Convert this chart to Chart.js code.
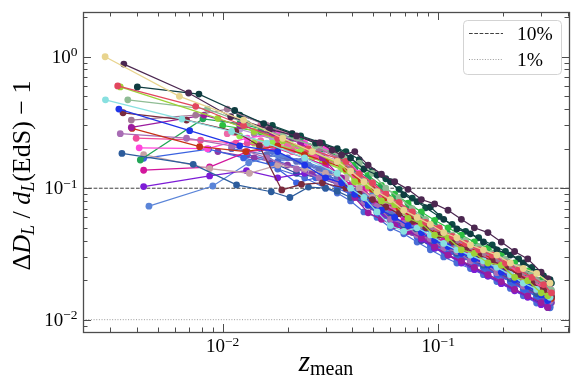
<!DOCTYPE html>
<html>
<head>
<meta charset="utf-8">
<script src="https://cdn.jsdelivr.net/npm/chart.js@4.4.1/dist/chart.umd.min.js"></script>
<style>
  html, body { margin: 0; padding: 0; background: #fff; }
  canvas { display: block; }
</style>
</head>
<body>
<canvas id="myChart" width="581" height="388"></canvas>
<script>

// Axis limits
const xMin = 0.00225
const xMax = 0.404
const yMin = 0.00806
const yMax = 2.19

// Reference levels (horizontal lines) and their legend text
const refLevels = [0.1, 0.01]
const refLabels = ['10%', '1%']

// Shared redshift grids used by the dense part of each curve
const zGridA = [0.034, 0.0392, 0.0452, 0.052, 0.060, 0.0692, 0.0798, 0.0919, 0.106, 0.122, 0.141, 0.162, 0.187, 0.216, 0.248, 0.286, 0.330]
const zGridB = [0.0356, 0.041, 0.0473, 0.0545, 0.0628, 0.0724, 0.0835, 0.0962, 0.111, 0.128, 0.147, 0.170, 0.196, 0.226, 0.260, 0.300, 0.322]
const zGridC = [0.0373, 0.043, 0.0495, 0.0571, 0.0658, 0.0758, 0.0874, 0.101, 0.116, 0.134, 0.154, 0.178, 0.205, 0.236, 0.272, 0.308, 0.335]

const seriesColors = [
    '#e8d48e', '#4b2750', '#0f3c40', '#e2475e', '#9cd236', '#88e0e0', '#8fbc94', '#1f35e8',
    '#7a2a3c', '#a27796', '#9b1c9e', '#c63216', '#a86cb4', '#f04c9c', '#ff46dc', '#2c5c9c',
    '#22a556', '#c6a2a6', '#d2169c', '#7c1cd6', '#5a84d8', '#3a62e0', '#90e84c', '#8a3aa6',
    '#6070c0', '#2cc040', '#ec6aa8', '#b49ad6', '#4666d0', '#a4dc3c', '#e8609a', '#2a4aa0',
    '#5a78d2', '#98e03a', '#e0509c', '#4a6ed6', '#a584a4', '#0e4a44', '#4f6fd8', '#6c8ee0'
]

// Low-z points of each curve: [z_mean, dD/d - 1]
const heads = [
    [[0.00285, 1.0], [0.0063, 0.50], [0.0125, 0.33], [0.019, 0.24], [0.026, 0.19]],
    [[0.00348, 0.88], [0.00695, 0.53], [0.0109, 0.35], [0.0165, 0.28], [0.022, 0.25], [0.0282, 0.222], [0.0322, 0.195]],
    [[0.00402, 0.59], [0.00776, 0.52], [0.01137, 0.39], [0.0155, 0.31], [0.021, 0.26], [0.027, 0.22]],
    [[0.00326, 0.60], [0.0075, 0.42], [0.0125, 0.30], [0.018, 0.24], [0.025, 0.20]],
    [[0.00335, 0.59], [0.0095, 0.34], [0.014, 0.27], [0.019, 0.23], [0.026, 0.19]],
    [[0.00286, 0.47], [0.00647, 0.336], [0.011, 0.27], [0.016, 0.22], [0.024, 0.17]],
    [[0.00363, 0.47], [0.0085, 0.40], [0.013, 0.31], [0.019, 0.25], [0.027, 0.21]],
    [[0.0033, 0.40], [0.00703, 0.274], [0.012, 0.21], [0.018, 0.19], [0.024, 0.15], [0.03, 0.12]],
    [[0.00345, 0.375], [0.0068, 0.33], [0.0115, 0.27], [0.0148, 0.21], [0.0188, 0.097], [0.0232, 0.107], [0.029, 0.11]],
    [[0.00377, 0.33], [0.0075, 0.36], [0.0105, 0.40], [0.016, 0.30], [0.022, 0.24], [0.028, 0.20]],
    [[0.00377, 0.29], [0.0082, 0.36], [0.012, 0.30], [0.017, 0.26], [0.023, 0.22], [0.029, 0.17]],
    [[0.0038, 0.285], [0.00782, 0.207], [0.0128, 0.19], [0.018, 0.21], [0.024, 0.18], [0.03, 0.16]],
    [[0.00335, 0.26], [0.0068, 0.24], [0.011, 0.21], [0.016, 0.17], [0.022, 0.14], [0.028, 0.12]],
    [[0.00397, 0.24], [0.0079, 0.232], [0.0115, 0.22], [0.016, 0.21], [0.021, 0.19], [0.027, 0.175]],
    [[0.0041, 0.203], [0.0085, 0.20], [0.013, 0.24], [0.018, 0.26], [0.024, 0.22], [0.03, 0.20]],
    [[0.00341, 0.184], [0.0073, 0.152], [0.0116, 0.106], [0.0168, 0.094], [0.0205, 0.085], [0.025, 0.102], [0.03, 0.10]],
    [[0.00415, 0.164], [0.0081, 0.337], [0.012, 0.31], [0.017, 0.27], [0.023, 0.23], [0.029, 0.20]],
    [[0.0043, 0.18], [0.0087, 0.141], [0.0133, 0.13], [0.018, 0.15], [0.024, 0.14], [0.03, 0.13]],
    [[0.0043, 0.137], [0.0087, 0.145], [0.013, 0.19], [0.018, 0.20], [0.024, 0.17], [0.03, 0.15]],
    [[0.0043, 0.103], [0.0087, 0.124], [0.0129, 0.136], [0.018, 0.12], [0.024, 0.13], [0.03, 0.12]],
    [[0.00455, 0.073], [0.009, 0.104], [0.0132, 0.156], [0.018, 0.18], [0.024, 0.16], [0.03, 0.14]],
    [[0.0043, 0.169], [0.0086, 0.198], [0.0125, 0.17], [0.017, 0.15], [0.022, 0.11], [0.027, 0.12]],
    [[0.012, 0.25], [0.017, 0.22], [0.023, 0.19], [0.029, 0.16]],
    [[0.0095, 0.19], [0.014, 0.17], [0.02, 0.15], [0.026, 0.13]],
    [[0.011, 0.20], [0.016, 0.18], [0.022, 0.16], [0.028, 0.14]],
    [[0.01, 0.30], [0.015, 0.27], [0.021, 0.24], [0.027, 0.21]],
    [[0.0105, 0.26], [0.015, 0.23], [0.02, 0.21], [0.026, 0.19]],
    [[0.012, 0.28], [0.017, 0.24], [0.023, 0.21], [0.029, 0.18]],
    [[0.013, 0.18], [0.018, 0.16], [0.024, 0.14], [0.03, 0.125]],
    [[0.014, 0.22], [0.02, 0.20], [0.026, 0.17]],
    [[0.015, 0.30], [0.021, 0.26], [0.027, 0.22]],
    [[0.0165, 0.16], [0.022, 0.13], [0.028, 0.12]],
    [[0.015, 0.20], [0.02, 0.17], [0.025, 0.15], [0.031, 0.13]],
    [[0.016, 0.26], [0.021, 0.20], [0.026, 0.18], [0.031, 0.16]],
    [[0.013, 0.22], [0.018, 0.23], [0.024, 0.19], [0.03, 0.17]],
    [[0.018, 0.14], [0.024, 0.12], [0.03, 0.10]],
    [[0.014, 0.26], [0.02, 0.22], [0.027, 0.18]],
    [[0.012, 0.36], [0.017, 0.30], [0.023, 0.25], [0.029, 0.22]],
    [[0.017, 0.19], [0.023, 0.16], [0.029, 0.14]],
    [[0.019, 0.17], [0.025, 0.15], [0.031, 0.12]]
]

// Which grid each curve's dense part sits on
const tailGrid = ['A', 'B', 'A', 'C', 'B', 'A', 'C', 'B', 'C', 'A', 'B', 'C', 'A', 'B', 'C', 'A',
                  'B', 'C', 'A', 'B', 'C', 'A', 'B', 'C', 'A', 'B', 'C', 'A', 'B', 'C', 'A', 'B',
                  'A', 'B', 'C', 'A', 'B', 'C', 'A', 'B']

// Dense part values, one per grid point
const tailY = [
    [0.16, 0.135, 0.112, 0.094, 0.082, 0.068, 0.060, 0.053, 0.046, 0.042, 0.037, 0.034, 0.031, 0.027, 0.0245, 0.0225, 0.019],
    [0.179, 0.19, 0.150, 0.128, 0.112, 0.098, 0.082, 0.076, 0.068, 0.058, 0.050, 0.046, 0.039, 0.033, 0.029, 0.023, 0.0205],
    [0.20, 0.17, 0.14, 0.126, 0.112, 0.089, 0.079, 0.072, 0.058, 0.049, 0.045, 0.039, 0.034, 0.031, 0.027, 0.023, 0.0202],
    [0.16, 0.128, 0.110, 0.090, 0.078, 0.066, 0.055, 0.050, 0.043, 0.038, 0.034, 0.031, 0.027, 0.024, 0.021, 0.0185, 0.016],
    [0.15, 0.112, 0.104, 0.080, 0.075, 0.059, 0.054, 0.044, 0.042, 0.034, 0.032, 0.027, 0.026, 0.021, 0.0198, 0.016, 0.0152],
    [0.13, 0.10, 0.085, 0.066, 0.052, 0.047, 0.050, 0.044, 0.038, 0.034, 0.031, 0.028, 0.025, 0.022, 0.019, 0.017, 0.0148],
    [0.17, 0.155, 0.130, 0.100, 0.085, 0.070, 0.058, 0.050, 0.044, 0.040, 0.036, 0.032, 0.029, 0.025, 0.022, 0.019, 0.0168],
    [0.11, 0.09, 0.075, 0.068, 0.060, 0.052, 0.046, 0.040, 0.036, 0.032, 0.029, 0.026, 0.023, 0.020, 0.018, 0.0155, 0.014],
    [0.10, 0.09, 0.082, 0.072, 0.064, 0.056, 0.050, 0.044, 0.039, 0.035, 0.031, 0.028, 0.025, 0.022, 0.019, 0.017, 0.015],
    [0.17, 0.14, 0.115, 0.095, 0.080, 0.069, 0.058, 0.050, 0.045, 0.040, 0.036, 0.032, 0.029, 0.026, 0.023, 0.020, 0.0172],
    [0.12, 0.085, 0.065, 0.058, 0.052, 0.047, 0.042, 0.036, 0.031, 0.028, 0.025, 0.022, 0.0195, 0.017, 0.0152, 0.0135, 0.0124],
    [0.14, 0.115, 0.098, 0.085, 0.070, 0.060, 0.052, 0.045, 0.040, 0.036, 0.033, 0.029, 0.026, 0.022, 0.0195, 0.016, 0.0145],
    [0.11, 0.098, 0.078, 0.073, 0.058, 0.054, 0.044, 0.041, 0.035, 0.033, 0.028, 0.027, 0.0228, 0.0215, 0.018, 0.0168, 0.0138],
    [0.15, 0.125, 0.100, 0.086, 0.073, 0.064, 0.055, 0.047, 0.042, 0.037, 0.033, 0.030, 0.027, 0.024, 0.0205, 0.018, 0.016],
    [0.17, 0.13, 0.110, 0.090, 0.075, 0.064, 0.056, 0.049, 0.042, 0.038, 0.034, 0.031, 0.028, 0.025, 0.022, 0.019, 0.0165],
    [0.095, 0.085, 0.078, 0.068, 0.060, 0.052, 0.046, 0.040, 0.036, 0.032, 0.029, 0.026, 0.023, 0.0205, 0.018, 0.0158, 0.014],
    [0.17, 0.14, 0.120, 0.100, 0.082, 0.070, 0.060, 0.052, 0.045, 0.040, 0.036, 0.032, 0.029, 0.025, 0.022, 0.019, 0.0168],
    [0.12, 0.10, 0.085, 0.075, 0.066, 0.058, 0.050, 0.045, 0.040, 0.036, 0.032, 0.029, 0.026, 0.0225, 0.020, 0.0175, 0.0155],
    [0.13, 0.106, 0.098, 0.077, 0.071, 0.057, 0.052, 0.042, 0.040, 0.034, 0.032, 0.027, 0.026, 0.0218, 0.0202, 0.0165, 0.0152],
    [0.11, 0.09, 0.075, 0.064, 0.055, 0.048, 0.041, 0.035, 0.031, 0.027, 0.024, 0.0215, 0.0188, 0.0166, 0.0148, 0.013, 0.0125],
    [0.12, 0.096, 0.088, 0.069, 0.064, 0.052, 0.049, 0.039, 0.038, 0.032, 0.031, 0.026, 0.0245, 0.0205, 0.0185, 0.0155, 0.0145],
    [0.10, 0.09, 0.077, 0.065, 0.056, 0.049, 0.043, 0.038, 0.034, 0.031, 0.028, 0.025, 0.022, 0.0195, 0.017, 0.015, 0.0135],
    [0.14, 0.116, 0.101, 0.077, 0.070, 0.056, 0.052, 0.042, 0.039, 0.033, 0.032, 0.026, 0.0248, 0.0205, 0.019, 0.0158, 0.0148],
    [0.10, 0.084, 0.072, 0.062, 0.053, 0.046, 0.041, 0.037, 0.033, 0.030, 0.027, 0.024, 0.0215, 0.019, 0.0168, 0.015, 0.0135],
    [0.125, 0.101, 0.093, 0.072, 0.066, 0.053, 0.049, 0.039, 0.037, 0.031, 0.030, 0.025, 0.0238, 0.0198, 0.0185, 0.015, 0.0142],
    [0.18, 0.15, 0.125, 0.105, 0.090, 0.077, 0.066, 0.057, 0.050, 0.044, 0.039, 0.035, 0.031, 0.027, 0.0235, 0.020, 0.018],
    [0.15, 0.12, 0.108, 0.084, 0.078, 0.061, 0.057, 0.046, 0.044, 0.036, 0.035, 0.029, 0.028, 0.023, 0.0218, 0.0175, 0.0162],
    [0.16, 0.13, 0.110, 0.093, 0.079, 0.067, 0.058, 0.050, 0.044, 0.039, 0.035, 0.032, 0.029, 0.025, 0.022, 0.019, 0.0168],
    [0.115, 0.092, 0.083, 0.066, 0.061, 0.049, 0.046, 0.038, 0.036, 0.030, 0.029, 0.0238, 0.0222, 0.0185, 0.017, 0.0142, 0.0133],
    [0.135, 0.112, 0.095, 0.080, 0.068, 0.058, 0.050, 0.044, 0.039, 0.035, 0.031, 0.028, 0.025, 0.022, 0.019, 0.0168, 0.015],
    [0.17, 0.14, 0.115, 0.097, 0.081, 0.069, 0.059, 0.051, 0.045, 0.040, 0.036, 0.032, 0.029, 0.0255, 0.022, 0.0192, 0.0168],
    [0.105, 0.088, 0.074, 0.063, 0.055, 0.047, 0.040, 0.035, 0.031, 0.0275, 0.0245, 0.0215, 0.019, 0.0168, 0.015, 0.0133, 0.0124],
    [0.12, 0.098, 0.088, 0.070, 0.064, 0.052, 0.047, 0.039, 0.036, 0.031, 0.029, 0.025, 0.023, 0.0195, 0.0178, 0.0148, 0.0135],
    [0.145, 0.118, 0.105, 0.082, 0.076, 0.060, 0.055, 0.044, 0.042, 0.034, 0.033, 0.027, 0.026, 0.021, 0.020, 0.016, 0.0152],
    [0.14, 0.13, 0.097, 0.092, 0.071, 0.066, 0.051, 0.049, 0.039, 0.038, 0.031, 0.031, 0.025, 0.024, 0.0195, 0.0185, 0.0148],
    [0.092, 0.080, 0.066, 0.060, 0.050, 0.045, 0.039, 0.034, 0.030, 0.027, 0.0245, 0.022, 0.0195, 0.0173, 0.0152, 0.0134, 0.0123],
    [0.16, 0.13, 0.112, 0.090, 0.080, 0.066, 0.058, 0.049, 0.044, 0.038, 0.035, 0.031, 0.028, 0.0245, 0.0215, 0.0188, 0.0162],
    [0.19, 0.165, 0.135, 0.118, 0.098, 0.084, 0.071, 0.061, 0.053, 0.047, 0.042, 0.037, 0.033, 0.029, 0.025, 0.0215, 0.019],
    [0.11, 0.094, 0.080, 0.066, 0.058, 0.049, 0.043, 0.036, 0.033, 0.028, 0.026, 0.0228, 0.0205, 0.0178, 0.0158, 0.014, 0.0126],
    [0.105, 0.090, 0.077, 0.069, 0.057, 0.052, 0.043, 0.040, 0.033, 0.031, 0.026, 0.025, 0.021, 0.0195, 0.0163, 0.0152, 0.0127]
]

// Tick labels (exponents of the major decades)
const xTickExp = [-2, -1]
const yTickExp = [0, -1, -2]

const SERIF = '"Liberation Serif", "Times New Roman", serif'


// Build datasets
const grids = { A: zGridA, B: zGridB, C: zGridC }
let datasets = []
heads.forEach((head, i) => {
    const zs = grids[tailGrid[i]]
    let pts = head.map(p => ({ x: p[0], y: p[1] }))
    tailY[i].forEach((v, j) => pts.push({ x: zs[j], y: v }))
    datasets.push({
        data: pts,
        showLine: true,
        borderColor: seriesColors[i],
        backgroundColor: seriesColors[i],
        borderWidth: 1.25,
        pointRadius: 3.4,
        pointHoverRadius: 3.4,
        pointBorderWidth: 0
    })
})

// reference lines go last so they are painted underneath
const refStyles = [
    { color: '#404040', dash: [3.7, 1.6] },
    { color: '#9a9a9a', dash: [1, 1.65] }
]
refLevels.forEach((lvl, i) => {
    datasets.push({
        label: refLabels[i],
        data: [{ x: xMin, y: lvl }, { x: xMax, y: lvl }],
        showLine: true,
        borderColor: refStyles[i].color,
        borderDash: refStyles[i].dash,
        borderWidth: 1,
        pointRadius: 0
    })
})


// helpers for drawing text runs with sub/superscripts
function runWidth(ctx, runs) {
    let w = 0
    runs.forEach(r => { ctx.font = r.font; w += ctx.measureText(r.t).width })
    return w
}
function drawRuns(ctx, runs, x0, base) {
    let x = x0
    runs.forEach(r => {
        ctx.font = r.font
        ctx.fillText(r.t, x, base + r.dy)
        x += ctx.measureText(r.t).width
    })
}
function powRuns(exp) {
    const e = exp < 0 ? '\u2212' + (-exp) : String(exp)
    return [
        { t: '10', font: '19px ' + SERIF, dy: 0 },
        { t: e, font: '13.5px ' + SERIF, dy: -6.5 }
    ]
}

function logTicks(lo, hi) {
    let out = []
    for (let e = Math.floor(Math.log10(lo)); e <= Math.ceil(Math.log10(hi)); e++) {
        for (let k = 1; k <= 9; k++) {
            const v = k * Math.pow(10, e)
            if (v >= lo && v <= hi) out.push({ v: v, major: k === 1 })
        }
    }
    return out
}


// Frame, inward ticks on all sides, tick labels and axis titles
const axesPlugin = {
    id: 'axesPlugin',
    afterDatasetsDraw(chart) {
        const { ctx, chartArea: a, scales: { x, y } } = chart
        ctx.save()
        ctx.strokeStyle = '#4d4d4d'
        ctx.lineWidth = 1

        logTicks(xMin, xMax).forEach(t => {
            const px = Math.round(x.getPixelForValue(t.v)) + 0.5
            const len = t.major ? 8 : 4.5
            ctx.beginPath()
            ctx.moveTo(px, a.bottom); ctx.lineTo(px, a.bottom - len)
            ctx.moveTo(px, a.top); ctx.lineTo(px, a.top + len)
            ctx.stroke()
        })
        logTicks(yMin, yMax).forEach(t => {
            const py = Math.round(y.getPixelForValue(t.v)) + 0.5
            const len = t.major ? 8 : 4.5
            ctx.beginPath()
            ctx.moveTo(a.left, py); ctx.lineTo(a.left + len, py)
            ctx.moveTo(a.right, py); ctx.lineTo(a.right - len, py)
            ctx.stroke()
        })

        ctx.lineWidth = 1.3
        ctx.strokeRect(Math.round(a.left) + 0.5, Math.round(a.top) + 0.5,
                       Math.round(a.right - a.left), Math.round(a.bottom - a.top))

        // tick labels
        ctx.fillStyle = '#000'
        ctx.textAlign = 'left'
        ctx.textBaseline = 'alphabetic'
        xTickExp.forEach(e => {
            const runs = powRuns(e)
            const px = x.getPixelForValue(Math.pow(10, e))
            drawRuns(ctx, runs, px - runWidth(ctx, runs) / 2, a.bottom + 20)
        })
        yTickExp.forEach(e => {
            const runs = powRuns(e)
            const py = y.getPixelForValue(Math.pow(10, e))
            drawRuns(ctx, runs, a.left - 5.5 - runWidth(ctx, runs), py + 6)
        })

        // x title: z_mean
        const xRuns = [
            { t: 'z', font: 'italic 29px ' + SERIF, dy: 0 },
            { t: 'mean', font: '20px ' + SERIF, dy: 4 }
        ]
        drawRuns(ctx, xRuns, (a.left + a.right) / 2 - runWidth(ctx, xRuns) / 2, 371)

        // y title: ΔD_L / d_L(EdS) − 1
        const yRuns = [
            { t: '\u0394', font: '26px ' + SERIF, dy: 0 },
            { t: 'D', font: 'italic 26px ' + SERIF, dy: 0 },
            { t: 'L', font: 'italic 18px ' + SERIF, dy: 4 },
            { t: ' / ', font: '26px ' + SERIF, dy: 0 },
            { t: 'd', font: 'italic 26px ' + SERIF, dy: 0 },
            { t: 'L', font: 'italic 18px ' + SERIF, dy: 4 },
            { t: '(EdS) \u2212 1', font: '26px ' + SERIF, dy: 0 }
        ]
        ctx.translate(30, (a.top + a.bottom) / 2 + 3.5)
        ctx.rotate(-Math.PI / 2)
        drawRuns(ctx, yRuns, -runWidth(ctx, yRuns) / 2, 0)
        ctx.restore()
    },

    // legend box, top right inside the axes
    afterDraw(chart) {
        const ctx = chart.ctx
        const a = chart.chartArea
        const bx = a.right - 106, by = a.top + 8, bw = 98, bh = 54
        ctx.save()
        ctx.beginPath()
        ctx.roundRect(bx + 0.5, by + 0.5, bw, bh, 4)
        ctx.fillStyle = 'rgba(255,255,255,0.8)'
        ctx.fill()
        ctx.strokeStyle = '#d3d3d3'
        ctx.lineWidth = 1
        ctx.stroke()

        refLabels.forEach((lbl, i) => {
            const ly = by + 13.5 + i * 26
            ctx.beginPath()
            ctx.setLineDash(refStyles[i].dash)
            ctx.strokeStyle = refStyles[i].color
            ctx.moveTo(bx + 6, ly); ctx.lineTo(bx + 40, ly)
            ctx.stroke()
            ctx.setLineDash([])
            ctx.fillStyle = '#000'
            ctx.font = '19.5px ' + SERIF
            ctx.textAlign = 'left'
            ctx.textBaseline = 'alphabetic'
            ctx.fillText(lbl, bx + 54, ly + 6.5)
        })
        ctx.restore()
    }
}


const config = {
    type: 'scatter',
    data: { datasets: datasets },
    options: {
        responsive: false,
        animation: false,
        devicePixelRatio: 1,
        layout: { padding: { left: 83, right: 12, top: 12, bottom: 56 } },
        plugins: {
            legend: { display: false },
            tooltip: { enabled: false }
        },
        scales: {
            x: { type: 'logarithmic', min: xMin, max: xMax, bounds: 'data', display: false },
            y: { type: 'logarithmic', min: yMin, max: yMax, bounds: 'data', display: false }
        }
    },
    plugins: [axesPlugin]
}

const ctx = document.getElementById('myChart').getContext('2d')
new Chart(ctx, config)

</script>
</body>
</html>
